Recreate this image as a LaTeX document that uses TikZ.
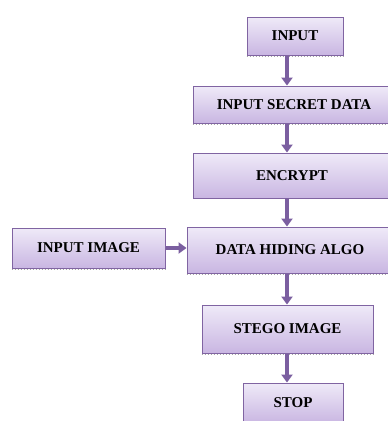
\documentclass[tikz,border=0pt]{standalone}
\usepackage{fontspec}
\setmainfont{Liberation Serif}
\usetikzlibrary{arrows.meta}
\definecolor{boxborder}{HTML}{8064A2}
\definecolor{boxtop}{HTML}{EFEAF8}
\definecolor{boxbottom}{HTML}{C9B6E2}
\definecolor{arrowcol}{HTML}{7B5FA0}
\tikzset{
  flowbox/.style={draw=boxborder, line width=0.9pt, top color=boxtop, bottom color=boxbottom,
    rectangle, inner sep=0pt, font=\fontsize{15}{17}\selectfont\bfseries, text=black},
  flowarrow/.style={draw=arrowcol, line width=3.6pt, -{Triangle[width=11pt,length=8pt]}},
  shadowline/.style={draw=gray!70, line width=1pt, dotted}
}
\begin{document}
\begin{tikzpicture}[x=1pt,y=-1pt]
\useasboundingbox (0,0) rectangle (388,421);
\fill[white] (0,0) rectangle (388,421);
\coordinate (ax) at (287,0);
\node[flowbox, minimum width=96pt, minimum height=38pt] (inp) at (295,36) {INPUT};
\node[flowbox, minimum width=202pt, minimum height=37pt] (isd) at (294,104.5) {INPUT SECRET DATA};
\node[flowbox, minimum width=198pt, minimum height=45pt] (enc) at (292,175.5) {ENCRYPT};
\node[flowbox, minimum width=206pt, minimum height=46pt] (dha) at (290,250) {DATA HIDING ALGO};
\node[flowbox, minimum width=153pt, minimum height=40pt] (ii) at (88.5,248) {INPUT IMAGE};
\node[flowbox, minimum width=171pt, minimum height=48pt] (sti) at (287.5,329) {STEGO IMAGE};
\node[flowbox, minimum width=100pt, minimum height=40pt] (stop) at (293,403) {STOP};
% dotted shadow lines under boxes
\draw[shadowline] ([yshift=-1.2pt]inp.south west) -- ([yshift=-1.2pt]inp.south east);
\draw[shadowline] ([yshift=-1.2pt]isd.south west) -- ([yshift=-1.2pt]isd.south east);
\draw[shadowline] ([yshift=-1.2pt]dha.south west) -- ([yshift=-1.2pt]dha.south east);
\draw[shadowline] ([yshift=-1.2pt]ii.south west) -- ([yshift=-1.2pt]ii.south east);
\draw[shadowline] ([yshift=-1.2pt]sti.south west) -- ([yshift=-1.2pt]sti.south east);
% arrows
\draw[flowarrow] ([yshift=-1pt]inp.south -| ax) -- (isd.north -| ax);
\draw[flowarrow] ([yshift=-1pt]isd.south -| ax) -- (enc.north -| ax);
\draw[flowarrow] (enc.south -| ax) -- (dha.north -| ax);
\draw[flowarrow] ([yshift=-1pt]dha.south -| ax) -- (sti.north -| ax);
\draw[flowarrow] ([yshift=-1pt]sti.south -| ax) -- (stop.north -| ax);
\draw[flowarrow] ([xshift=1pt]ii.east) -- (dha.west |- ii.east);
\end{tikzpicture}
\end{document}
